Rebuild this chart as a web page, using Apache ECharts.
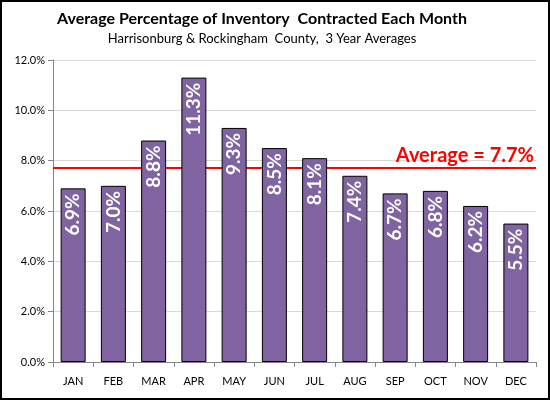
<!DOCTYPE html>
<html><head><meta charset="utf-8">
<script src="https://cdn.jsdelivr.net/npm/echarts@6/dist/echarts.min.js"></script>
<style>html,body{margin:0;padding:0;background:#fff}#c{width:550px;height:400px}</style>
</head><body><div id="c"></div>
<script>
const months = ['JAN','FEB','MAR','APR','MAY','JUN','JUL','AUG','SEP','OCT','NOV','DEC'];
const values = [6.9,7.0,8.8,11.3,9.3,8.5,8.1,7.4,6.7,6.8,6.2,5.5];
const average = 7.7;
const titleText = 'Average Percentage of Inventory  Contracted Each Month';
const subtitleText = 'Harrisonburg & Rockingham  County,  3 Year Averages';
const FONT = 'Lato, "Open Sans", sans-serif';
const chart = echarts.init(document.getElementById('c'));
chart.setOption({
  animation:false,
  backgroundColor:'#fff',
  graphic:[
    {type:'text',x:262,y:19,style:{text:titleText,fontFamily:FONT,fontSize:16,fontWeight:'bold',fill:'#000',align:'center',verticalAlign:'middle'},silent:true},
    {type:'text',x:262,y:39,style:{text:subtitleText,fontFamily:FONT,fontSize:13,fill:'#000',align:'center',verticalAlign:'middle'},silent:true},
    {type:'rect',shape:{x:1,y:1,width:548,height:398},style:{fill:null,stroke:'#000',lineWidth:2},silent:true,z:100}],
  grid:{left:53,right:14,top:60,bottom:38},
  xAxis:{type:'category',data:months,
    axisLine:{lineStyle:{color:'#868686'}},
    axisTick:{show:true,length:5,lineStyle:{color:'#868686'}},
    axisLabel:{color:'#000',fontFamily:FONT,fontSize:11,margin:14}},
  yAxis:{type:'value',min:0,max:12,interval:2,
    axisLine:{show:true,lineStyle:{color:'#868686'}},
    axisTick:{show:true,length:5,lineStyle:{color:'#868686'}},
    splitLine:{lineStyle:{color:'#d9d9d9'}},
    axisLabel:{color:'#000',fontFamily:FONT,fontSize:11,margin:8,formatter:v=>v.toFixed(1)+'%'}},
  series:[
   {type:'line',data:[],z:1,
    markLine:{silent:true,symbol:'none',data:[{yAxis:average}],
      lineStyle:{color:'#ff0000',width:2,type:'solid'},
      label:{show:true,position:'insideEndTop',distance:[2,3],color:'#ff0000',fontFamily:FONT,fontWeight:'bold',fontSize:20,
        formatter:'Average = '+average.toFixed(1)+'%'}}},
   {type:'bar',data:values,barWidth:25,z:5,
    itemStyle:{color:'#8064A2',borderColor:'#000',borderWidth:1},
    label:{show:true,position:'insideTop',distance:5,rotate:90,align:'right',verticalAlign:'middle',
      color:'#fff',fontFamily:FONT,fontWeight:'bold',fontSize:19,formatter:p=>p.value.toFixed(1)+'%'}}
  ]
});
</script></body></html>
